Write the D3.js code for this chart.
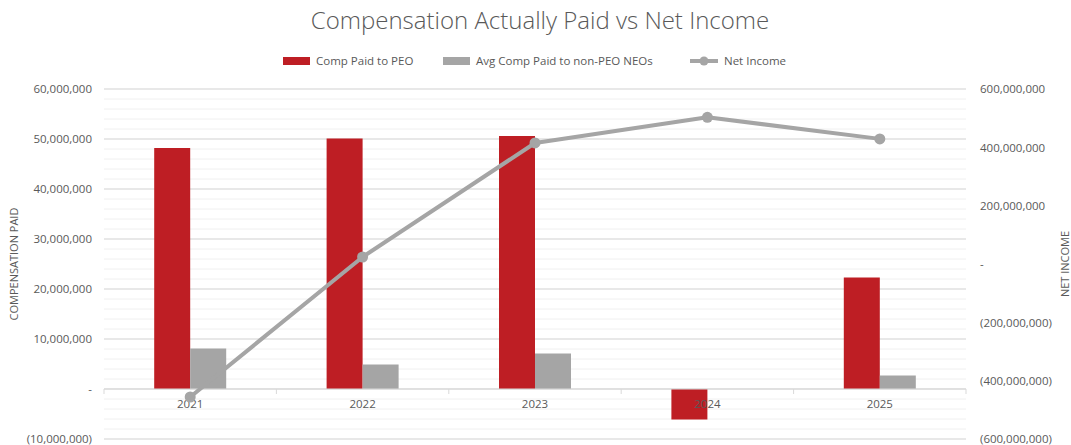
<!DOCTYPE html>
<html>
<head>
<meta charset="utf-8">
<script src="https://cdn.jsdelivr.net/npm/d3@7"></script>
<style>
  body { margin: 0; background: #fff; }
  text { font-family: "Open Sans", "Noto Sans", sans-serif; fill: #595959; }
</style>
</head>
<body>
<div id="chart"></div>
<script>
// ---------------- data ----------------
const years = ["2021", "2022", "2023", "2024", "2025"];
const compPEO = [48200000, 50100000, 50600000, -6100000, 22300000];
const avgCompNEO = [8100000, 4900000, 7100000, 0, 2700000];
const netIncome = [-456000000, 24000000, 415000000, 503000000, 429000000];
const leftTicks = [-10000000, 0, 10000000, 20000000, 30000000, 40000000, 50000000, 60000000];
const rightTicks = [-600000000, -400000000, -200000000, 0, 200000000, 400000000, 600000000];

// ---------------- layout ----------------
const width = 1071, height = 445;
const plotLeft = 104, plotRight = 966, plotTop = 89, plotBottom = 439;

const svg = d3.select("#chart").append("svg")
  .attr("width", width).attr("height", height);

const x = d3.scaleBand().domain(years).range([plotLeft, plotRight]);
const yL = d3.scaleLinear().domain([-10000000, 60000000]).range([plotBottom, plotTop]);
const yR = d3.scaleLinear().domain([-600000000, 600000000]).range([plotBottom, plotTop]);

const fmt = function (v) {
  if (v === 0) return "-";
  const s = d3.format(",")(Math.abs(v));
  return v < 0 ? "(" + s + ")" : s;
};

// minor grid (every 2M)
svg.append("g").selectAll("line")
  .data(d3.range(-10000000, 60000001, 2000000))
  .enter().append("line")
  .attr("x1", plotLeft).attr("x2", plotRight)
  .attr("y1", d => yL(d)).attr("y2", d => yL(d))
  .attr("stroke", "#f0f0f0").attr("stroke-width", 1);

// major grid
svg.append("g").selectAll("line")
  .data(leftTicks)
  .enter().append("line")
  .attr("x1", plotLeft).attr("x2", plotRight)
  .attr("y1", d => yL(d)).attr("y2", d => yL(d))
  .attr("stroke", "#d9d9d9").attr("stroke-width", 1);

// left axis labels
svg.append("g")
  .attr("transform", "translate(" + plotLeft + ",0)")
  .call(d3.axisLeft(yL).tickValues(leftTicks).tickFormat(fmt).tickSize(0).tickPadding(12))
  .call(g => g.select(".domain").remove())
  .selectAll("text").style("font-size", "11.5px").attr("fill", "#595959");

// right axis labels
svg.append("g")
  .attr("transform", "translate(" + plotRight + ",0)")
  .call(d3.axisRight(yR).tickValues(rightTicks).tickFormat(fmt).tickSize(0).tickPadding(14))
  .call(g => g.select(".domain").remove())
  .selectAll("text").style("font-size", "11.5px").attr("fill", "#595959");

// bars
const bw = 36;
svg.append("g").selectAll("rect")
  .data(years)
  .enter().append("rect")
  .attr("x", d => x(d) + x.bandwidth() / 2 - bw)
  .attr("width", bw)
  .attr("y", (d, i) => yL(Math.max(0, compPEO[i])))
  .attr("height", (d, i) => Math.abs(yL(compPEO[i]) - yL(0)))
  .attr("fill", "#be1e24");

svg.append("g").selectAll("rect")
  .data(years)
  .enter().append("rect")
  .attr("x", d => x(d) + x.bandwidth() / 2)
  .attr("width", bw)
  .attr("y", (d, i) => yL(Math.max(0, avgCompNEO[i])))
  .attr("height", (d, i) => Math.abs(yL(avgCompNEO[i]) - yL(0)))
  .attr("fill", "#a5a5a5");

// category axis at zero
const xAxis = svg.append("g")
  .attr("transform", "translate(0," + yL(0) + ")");
xAxis.append("line")
  .attr("x1", plotLeft).attr("x2", plotRight)
  .attr("stroke", "#d9d9d9");
xAxis.selectAll(".tk")
  .data(years.concat(["end"]))
  .enter().append("line")
  .attr("x1", (d, i) => plotLeft + i * x.step()).attr("x2", (d, i) => plotLeft + i * x.step())
  .attr("y1", 0).attr("y2", 5)
  .attr("stroke", "#d9d9d9");
xAxis.selectAll("text")
  .data(years)
  .enter().append("text")
  .attr("x", d => x(d) + x.bandwidth() / 2)
  .attr("y", 19)
  .attr("text-anchor", "middle")
  .style("font-size", "11.5px")
  .text(d => d);

// net income line
const line = d3.line()
  .x((d, i) => x(years[i]) + x.bandwidth() / 2)
  .y(d => yR(d));
svg.append("path")
  .datum(netIncome)
  .attr("d", line)
  .attr("fill", "none")
  .attr("stroke", "#a5a5a5")
  .attr("stroke-width", 4)
  .attr("stroke-linejoin", "round");
svg.append("g").selectAll("circle")
  .data(netIncome)
  .enter().append("circle")
  .attr("cx", (d, i) => x(years[i]) + x.bandwidth() / 2)
  .attr("cy", d => yR(d))
  .attr("r", 5.5)
  .attr("fill", "#a5a5a5");

// axis titles
svg.append("text")
  .attr("transform", "translate(18," + ((plotTop + plotBottom) / 2) + ") rotate(-90)")
  .attr("text-anchor", "middle")
  .style("font-size", "11px")
  .text("COMPENSATION PAID");
svg.append("text")
  .attr("transform", "translate(1069," + ((plotTop + plotBottom) / 2) + ") rotate(-90)")
  .attr("text-anchor", "middle")
  .style("font-size", "11px")
  .text("NET INCOME");

// title
svg.append("text")
  .attr("x", 540).attr("y", 29)
  .attr("text-anchor", "middle")
  .style("font-size", "24px")
  .style("font-weight", 300)
  .text("Compensation Actually Paid vs Net Income");

// legend
const legend = svg.append("g").attr("transform", "translate(0,61)");
legend.append("rect").attr("x", 283).attr("y", -4).attr("width", 27).attr("height", 8).attr("fill", "#be1e24");
legend.append("text").attr("x", 316).attr("y", 4).style("font-size", "11.5px").text("Comp Paid to PEO");
legend.append("rect").attr("x", 443).attr("y", -4).attr("width", 27).attr("height", 8).attr("fill", "#a5a5a5");
legend.append("text").attr("x", 476).attr("y", 4).style("font-size", "11.5px").text("Avg Comp Paid to non-PEO NEOs");
legend.append("line").attr("x1", 690).attr("x2", 718).attr("y1", 0).attr("y2", 0)
  .attr("stroke", "#a5a5a5").attr("stroke-width", 4);
legend.append("circle").attr("cx", 704).attr("cy", 0).attr("r", 4.5).attr("fill", "#a5a5a5");
legend.append("text").attr("x", 724).attr("y", 4).style("font-size", "11.5px").text("Net Income");
</script>
</body>
</html>
